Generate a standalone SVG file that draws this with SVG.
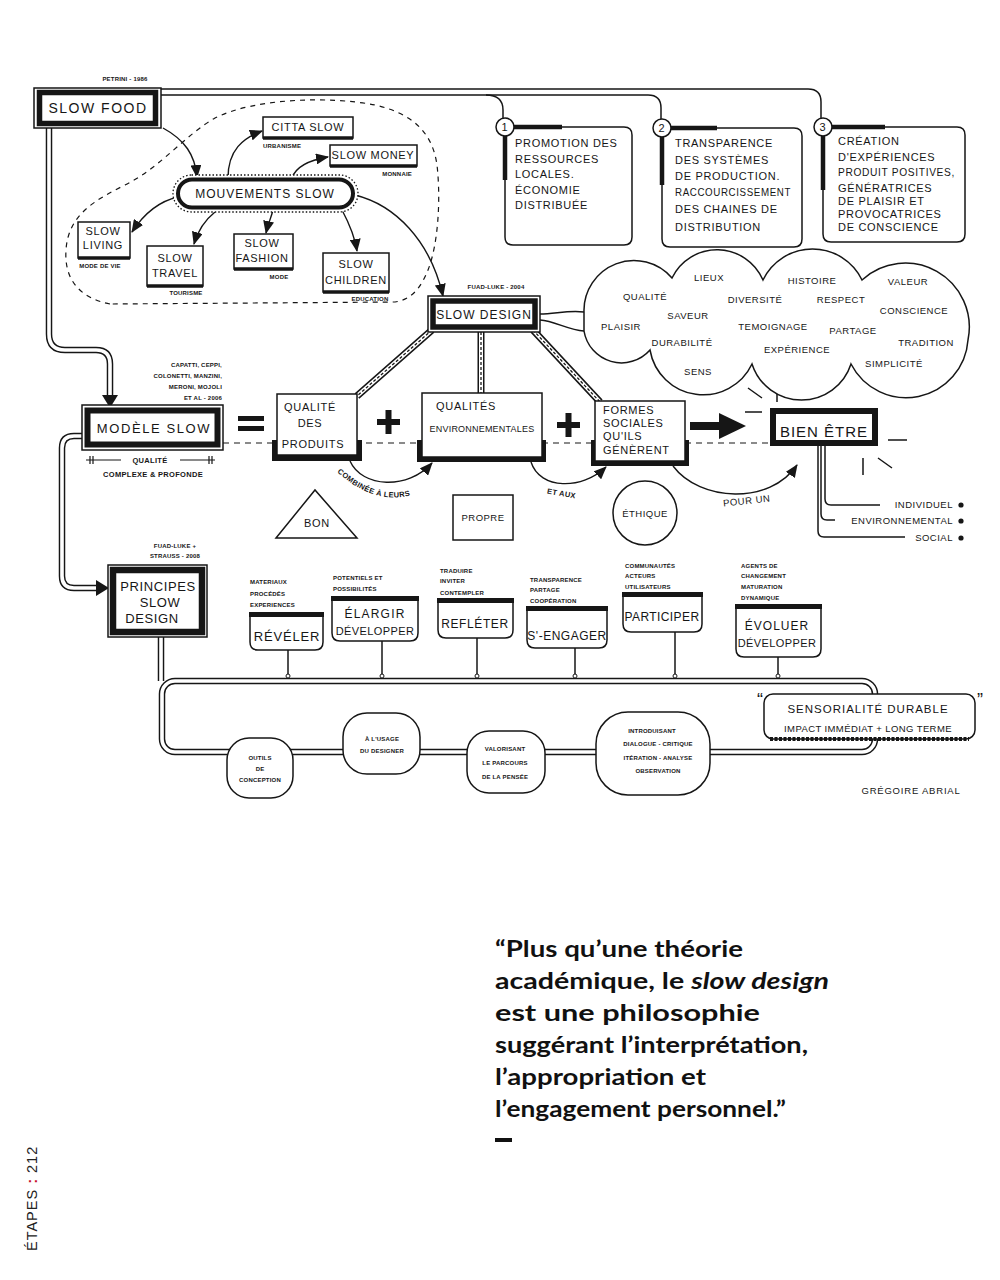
<svg xmlns="http://www.w3.org/2000/svg" width="1000" height="1280" viewBox="0 0 1000 1280">
<style>
text{font-family:"Liberation Sans",Arial,sans-serif;fill:#161616}
.c{text-anchor:middle}
.e{text-anchor:end}
.big{font-size:14px;letter-spacing:1.5px}
.m{font-size:12px;letter-spacing:1px}
.b{font-size:11px;letter-spacing:0.7px}
.w{font-size:9.5px;letter-spacing:0.5px}
.s{font-size:7.5px;font-weight:bold;letter-spacing:0.3px}
.xs{font-size:6px;font-weight:bold;letter-spacing:0.2px}
.ln{fill:none;stroke:#161616;stroke-width:1.5}
.box{fill:#fff;stroke:#161616;stroke-width:1.5}
.thick{fill:none;stroke:#161616;stroke-width:5.5}
.arr{fill:none;stroke:#161616;stroke-width:1.4;marker-end:url(#ah)}
.tO{fill:none;stroke:#161616;stroke-width:6.5}
.tI{fill:none;stroke:#fff;stroke-width:3.6}
.rO{fill:none;stroke:#161616;stroke-width:7}
.rI{fill:none;stroke:#fff;stroke-width:4}
.rD{fill:none;stroke:#161616;stroke-width:1.3;stroke-dasharray:3 2}
.q{font-family:Lato,"Open Sans",sans-serif;font-weight:bold;font-size:23px;fill:#111}
</style>
<defs>
<marker id="ah" markerUnits="userSpaceOnUse" markerWidth="13" markerHeight="11" refX="12" refY="5.5" orient="auto">
<path d="M0,0 L13,5.5 L0,11 z" fill="#161616"/>
</marker>
</defs>
<rect width="1000" height="1280" fill="#fff"/>

<g id="connectors">
<path class="ln" d="M161,89 H808 Q821,89 821,102 V118"/>
<path class="ln" d="M161,95 H648 Q661,95 661,108 V119"/>
<path class="ln" d="M486,95 Q503,95 503,110 V118"/>
<path class="tO" d="M49,128 V334 Q49,350 65,350 H96 Q110,350 110,364 V396"/>
<path class="tO" d="M82,436 H74 Q62,436 62,448 V576 Q62,588 74,588 H97"/>
<path class="tO" d="M161,637 V681"/>
<rect class="tO" x="162" y="681" width="713" height="71" rx="13"/>
<path class="tI" d="M49,128 V334 Q49,350 65,350 H96 Q110,350 110,364 V396"/>
<path class="tI" d="M82,436 H74 Q62,436 62,448 V576 Q62,588 74,588 H97"/>
<path class="tI" d="M161,637 V681"/>
<rect class="tI" x="162" y="681" width="713" height="71" rx="13"/>
<polygon points="102,395 118,395 110,408" fill="#161616"/>
<polygon points="96,580 109,588 96,596" fill="#161616"/>
<path d="M110,304 C80,298 64,280 66,250 C68,215 95,200 125,185 C160,168 185,135 215,118 C255,98 330,96 375,105 C410,113 432,130 437,165 C441,200 438,245 428,270 C420,290 410,300 395,302 L110,304" fill="none" stroke="#161616" stroke-width="1.2" stroke-dasharray="5 5"/>
<path class="arr" d="M163,128 C185,140 195,155 197,177"/>
<path class="arr" d="M228,178 C228,150 243,138 262,131"/>
<path class="arr" d="M292,178 C296,166 310,160 328,157"/>
<path class="arr" d="M178,197 C160,201 145,212 132,232"/>
<path class="arr" d="M215,212 C205,220 198,230 194,244"/>
<path class="arr" d="M273,210 C271,218 268,224 266,233"/>
<path class="arr" d="M342,210 C350,225 355,238 357,251"/>
<path class="arr" d="M355,195 C395,205 430,240 443,296"/>
<path class="ln" d="M540,314 C555,314 568,310 584,312"/>
<path class="ln" d="M540,320 C555,321 568,330 584,331"/>
<path class="rO" d="M432,330 L357,396 M481,332 V394 M533,330 L600,402"/>
<path class="rI" d="M432,330 L357,396 M481,332 V394 M533,330 L600,402"/>
<path class="rD" d="M432,330 L357,396 M481,332 V394 M533,330 L600,402"/>
<path d="M223,443 H770" fill="none" stroke="#161616" stroke-width="1.2" stroke-dasharray="6 5"/>
<path class="arr" d="M350,461 C362,488 408,490 432,463"/>
<path class="arr" d="M531,462 C540,490 582,490 606,467"/>
<path class="arr" d="M673,466 C700,502 770,505 797,465"/>
<path d="M690,426 H722" stroke="#161616" stroke-width="8" fill="none"/>
<polygon points="719,413 746,426 719,439" fill="#161616"/>
<path class="ln" d="M818,445 V531 Q818,537 824,537 H905"/>
<path class="ln" d="M821,445 V514 Q821,520 827,520 H835"/>
<path class="ln" d="M825,445 V499 Q825,505 831,505 H880"/>
<path class="ln" d="M748,388 L762,398 M777,380 V402 M745,412 H762 M888,440 H907 M863,458 V475 M878,458 L892,468"/>
<g class="ln">
<path d="M288,650 V677"/><path d="M382,641 V677"/><path d="M477,638 V677"/><path d="M575,648 V677"/><path d="M675,632 V677"/><path d="M778,657 V677"/>
</g>
<g fill="#fff" stroke="#161616" stroke-width="1">
<circle cx="288" cy="676" r="2"/><circle cx="382" cy="676" r="2"/><circle cx="477" cy="676" r="2"/><circle cx="575" cy="676" r="2"/><circle cx="675" cy="676" r="2"/><circle cx="778" cy="676" r="2"/>
</g>
</g>

<g id="slow-food">
<text class="xs c" x="125" y="81">PETRINI - 1986</text>
<rect class="box" x="34" y="88" width="127" height="40"/>
<rect class="thick" x="39.5" y="92.5" width="116" height="31"/>
<text class="big c" x="98" y="113">SLOW FOOD</text>
</g>

<g id="box-1">
<path class="box" d="M505,127 H624 Q632,127 632,135 V237 Q632,245 624,245 H513 Q505,245 505,237 Z"/>
<path d="M510,127 H562 M505,132 V180" stroke="#161616" stroke-width="4.5" fill="none"/>
<circle cx="505" cy="127" r="9" fill="#fff" stroke="#161616" stroke-width="1.5"/>
<text class="b c" x="505" y="131">1</text>
<text class="b" x="515" y="147">PROMOTION DES</text>
<text class="b" x="515" y="163">RESSOURCES</text>
<text class="b" x="515" y="178">LOCALES.</text>
<text class="b" x="515" y="194">ÉCONOMIE</text>
<text class="b" x="515" y="209">DISTRIBUÉE</text>
</g>

<g id="box-2">
<path class="box" d="M662,128 H794 Q802,128 802,136 V239 Q802,247 794,247 H670 Q662,247 662,239 Z"/>
<path d="M667,128 H717 M662,133 V185" stroke="#161616" stroke-width="4.5" fill="none"/>
<circle cx="662" cy="128" r="9" fill="#fff" stroke="#161616" stroke-width="1.5"/>
<text class="b c" x="662" y="132">2</text>
<text class="b" x="675" y="147">TRANSPARENCE</text>
<text class="b" x="675" y="164">DES SYSTÈMES</text>
<text class="b" x="675" y="180">DE PRODUCTION.</text>
<text class="b" x="675" y="196" textLength="116" lengthAdjust="spacingAndGlyphs">RACCOURCISSEMENT</text>
<text class="b" x="675" y="213">DES CHAINES DE</text>
<text class="b" x="675" y="231">DISTRIBUTION</text>
</g>

<g id="box-3">
<path class="box" d="M823,127 H957 Q965,127 965,135 V234 Q965,242 957,242 H831 Q823,242 823,234 Z"/>
<path d="M828,127 H885 M823,132 V190" stroke="#161616" stroke-width="4.5" fill="none"/>
<circle cx="823" cy="127" r="9" fill="#fff" stroke="#161616" stroke-width="1.5"/>
<text class="b c" x="823" y="131">3</text>
<text class="b" x="838" y="145">CRÉATION</text>
<text class="b" x="838" y="161">D'EXPÉRIENCES</text>
<text class="b" x="838" y="176" textLength="117" lengthAdjust="spacingAndGlyphs">PRODUIT POSITIVES,</text>
<text class="b" x="838" y="192">GÉNÉRATRICES</text>
<text class="b" x="838" y="205">DE PLAISIR ET</text>
<text class="b" x="838" y="218">PROVOCATRICES</text>
<text class="b" x="838" y="231">DE CONSCIENCE</text>
</g>

<g id="mouvements-slow">
<rect x="173" y="175" width="185" height="37" rx="18.5" fill="#fff" stroke="#161616" stroke-width="1.3" stroke-dasharray="1.5 2"/>
<rect x="178" y="179.5" width="175" height="28" rx="14" fill="#fff" stroke="#161616" stroke-width="4"/>
<text class="m c" x="265" y="198">MOUVEMENTS SLOW</text>
</g>

<g id="citta-slow">
<rect class="box" x="263" y="117" width="90" height="21"/>
<path d="M263,138 H353" stroke="#161616" stroke-width="3.5"/>
<text class="b c" x="308" y="131">CITTA SLOW</text>
<text class="xs" x="263" y="148">URBANISME</text>
</g>
<g id="slow-money">
<rect class="box" x="330" y="145" width="87" height="21"/>
<path d="M330,166 H417" stroke="#161616" stroke-width="3.5"/>
<text class="b c" x="373" y="159">SLOW MONEY</text>
<text class="xs e" x="412" y="176">MONNAIE</text>
</g>
<g id="slow-living">
<rect class="box" x="78" y="222" width="52" height="36"/>
<path d="M78,258 H130" stroke="#161616" stroke-width="3.5"/>
<text class="b c" x="103" y="235">SLOW</text>
<text class="b c" x="103" y="249">LIVING</text>
<text class="xs c" x="100" y="268">MODE DE VIE</text>
</g>
<g id="slow-travel">
<rect class="box" x="147" y="246" width="56" height="40"/>
<path d="M147,286 H203" stroke="#161616" stroke-width="3.5"/>
<text class="b c" x="175" y="262">SLOW</text>
<text class="b c" x="175" y="277">TRAVEL</text>
<text class="xs c" x="186" y="295">TOURISME</text>
</g>
<g id="slow-fashion">
<rect class="box" x="234" y="234" width="59" height="35"/>
<path d="M234,269 H293" stroke="#161616" stroke-width="3.5"/>
<text class="b c" x="262" y="247">SLOW</text>
<text class="b c" x="262" y="262">FASHION</text>
<text class="xs c" x="279" y="279">MODE</text>
</g>
<g id="slow-children">
<rect class="box" x="323" y="253" width="66" height="39"/>
<path d="M323,292 H389" stroke="#161616" stroke-width="3.5"/>
<text class="b c" x="356" y="268">SLOW</text>
<text class="b c" x="356" y="284">CHILDREN</text>
<text class="xs c" x="370" y="301">EDUCATION</text>
</g>

<g id="slow-design">
<text class="xs c" x="496" y="289">FUAD-LUKE - 2004</text>
<rect class="box" x="428" y="296" width="112" height="36"/>
<rect class="thick" x="433" y="301" width="102" height="26"/>
<text class="m c" x="484" y="319">SLOW DESIGN</text>
</g>

<g id="valeurs-cloud">
<path class="box" d="M584,331 L584,312 A50,50 0 0 1 672,278 A50,50 0 0 1 763,280 A55,55 0 0 1 862,280 A64,64 0 0 1 968,340 A62,62 0 0 1 851,364 A52,52 0 0 1 752,364 A54,54 0 0 1 650,350 A38,38 0 0 1 584,331 Z"/>
<g class="w c">
<text x="645" y="300">QUALITÉ</text>
<text x="709" y="281">LIEUX</text>
<text x="812" y="284">HISTOIRE</text>
<text x="908" y="285">VALEUR</text>
<text x="755" y="303">DIVERSITÉ</text>
<text x="841" y="303">RESPECT</text>
<text x="914" y="314">CONSCIENCE</text>
<text x="688" y="319">SAVEUR</text>
<text x="621" y="330">PLAISIR</text>
<text x="773" y="330">TEMOIGNAGE</text>
<text x="853" y="334">PARTAGE</text>
<text x="682" y="346">DURABILITÉ</text>
<text x="926" y="346">TRADITION</text>
<text x="797" y="353">EXPÉRIENCE</text>
<text x="894" y="367">SIMPLICITÉ</text>
<text x="698" y="375">SENS</text>
</g>
</g>

<g id="modele-slow">
<g class="xs e">
<text x="222" y="367">CAPATTI, CEPPI,</text>
<text x="222" y="378">COLONETTI, MANZINI,</text>
<text x="222" y="389">MERONI, MOJOLI</text>
<text x="222" y="400">ET AL - 2006</text>
</g>
<rect class="box" x="82" y="405" width="141" height="45"/>
<rect x="87.5" y="410.5" width="130" height="34" fill="none" stroke="#161616" stroke-width="6"/>
<text class="c" x="154" y="433" style="font-size:13px;letter-spacing:1.6px">MODÈLE SLOW</text>
<path class="ln" d="M86,460 H121 M180,460 H215 M90,456 V464 M93,456 V464 M209,456 V464 M212,456 V464" style="stroke-width:1.2"/>
<text class="s c" x="150" y="463">QUALITÉ</text>
<text class="s c" x="153" y="477">COMPLEXE &amp; PROFONDE</text>
</g>

<g id="egal">
<rect x="238" y="416" width="26" height="5" fill="#161616"/>
<rect x="238" y="426" width="26" height="5" fill="#161616"/>
</g>

<g id="qualite-produits">
<rect x="272" y="440" width="90" height="21" fill="#161616"/>
<rect class="box" x="277" y="394" width="80" height="61"/>
<text class="b c" x="310" y="411">QUALITÉ</text>
<text class="b c" x="310" y="427">DES</text>
<text class="b c" x="313" y="448">PRODUITS</text>
</g>

<g id="plus-1"><rect x="377" y="419" width="23" height="6" fill="#161616"/><rect x="385.5" y="410" width="6" height="24" fill="#161616"/></g>

<g id="qualites-env">
<rect x="417" y="440" width="129" height="22" fill="#161616"/>
<rect class="box" x="422" y="393" width="120" height="64"/>
<text class="b c" x="466" y="410">QUALITÉS</text>
<text class="c" x="482" y="432" style="font-size:9px;letter-spacing:0.2px">ENVIRONNEMENTALES</text>
</g>

<g id="plus-2"><rect x="557" y="422" width="23" height="6" fill="#161616"/><rect x="565.5" y="413" width="6" height="24" fill="#161616"/></g>

<g id="formes-sociales">
<rect x="591" y="440" width="98" height="26" fill="#161616"/>
<rect class="box" x="595" y="401" width="90" height="60"/>
<text class="b" x="603" y="414">FORMES</text>
<text class="b" x="603" y="427">SOCIALES</text>
<text class="b" x="603" y="440">QU'ILS</text>
<text class="b" x="603" y="454">GÉNÈRENT</text>
</g>

<g id="bien-etre">
<rect x="773" y="411" width="102" height="32" fill="#fff" stroke="#161616" stroke-width="6"/>
<text class="c" x="824" y="437" style="font-size:15px;letter-spacing:1px">BIEN ÊTRE</text>
<text class="w e" x="953" y="508">INDIVIDUEL</text>
<text class="w e" x="953" y="524">ENVIRONNEMENTAL</text>
<text class="w e" x="953" y="541">SOCIAL</text>
<circle cx="961" cy="505" r="2.6" fill="#161616"/>
<circle cx="961" cy="521" r="2.6" fill="#161616"/>
<circle cx="961" cy="538" r="2.6" fill="#161616"/>
</g>

<g id="labels-liens">
<path id="pc" d="M337,472 Q386,516 436,484" fill="none"/>
<text class="s"><textPath href="#pc">COMBINÉE À LEURS</textPath></text>
<text class="s c" x="561" y="496" transform="rotate(10 561 496)">ET AUX</text>
<text class="w c" x="747" y="504" transform="rotate(-6 747 504)">POUR UN</text>
</g>

<g id="bon">
<polygon points="276,538 315,490 357,538" class="box"/>
<text class="b c" x="317" y="527">BON</text>
</g>
<g id="propre">
<rect class="box" x="453" y="495" width="60" height="45"/>
<text class="w c" x="483" y="521">PROPRE</text>
</g>
<g id="ethique">
<circle class="box" cx="645" cy="513" r="32"/>
<text class="w c" x="645" y="517">ÉTHIQUE</text>
</g>

<g id="principes-slow-design">
<text class="xs c" x="175" y="548">FUAD-LUKE +</text>
<text class="xs c" x="175" y="558">STRAUSS - 2008</text>
<rect class="box" x="108" y="565" width="99" height="72"/>
<rect x="113" y="570" width="89" height="62" fill="none" stroke="#161616" stroke-width="6.5"/>
<text class="c" x="158" y="591" style="font-size:13px;letter-spacing:0.6px">PRINCIPES</text>
<text class="c" x="160" y="607" style="font-size:13px;letter-spacing:0.6px">SLOW</text>
<text class="c" x="152" y="623" style="font-size:13px;letter-spacing:0.6px">DESIGN</text>
</g>

<g id="reveler">
<text class="xs" x="250" y="584">MATERIAUX</text>
<text class="xs" x="250" y="596">PROCÉDÉS</text>
<text class="xs" x="250" y="607">EXPERIENCES</text>
<path class="box" d="M250,614 H323 V642 Q323,650 315,650 H258 Q250,650 250,642 Z"/>
<rect x="249" y="612" width="75" height="5" fill="#161616"/>
<text class="c" x="287" y="641" style="font-size:13px;letter-spacing:0.8px">RÉVÉLER</text>
</g>
<g id="elargir">
<text class="xs" x="333" y="580">POTENTIELS ET</text>
<text class="xs" x="333" y="591">POSSIBILITÉS</text>
<path class="box" d="M332,598 H418 V633 Q418,641 410,641 H340 Q332,641 332,633 Z"/>
<rect x="331" y="596" width="88" height="5" fill="#161616"/>
<text class="c" x="375" y="618" style="font-size:12px;letter-spacing:1.2px">ÉLARGIR</text>
<text class="c" x="375" y="635" style="font-size:11px;letter-spacing:0.4px">DÉVELOPPER</text>
</g>
<g id="refleter">
<text class="xs" x="440" y="573">TRADUIRE</text>
<text class="xs" x="440" y="583">INVITER</text>
<text class="xs" x="440" y="595">CONTEMPLER</text>
<path class="box" d="M438,600 H513 V630 Q513,638 505,638 H446 Q438,638 438,630 Z"/>
<rect x="437" y="598" width="77" height="5" fill="#161616"/>
<text class="c" x="475" y="628" style="font-size:12px;letter-spacing:0.6px">REFLÉTER</text>
</g>
<g id="s-engager">
<text class="xs" x="530" y="582">TRANSPARENCE</text>
<text class="xs" x="530" y="592">PARTAGE</text>
<text class="xs" x="530" y="603">COOPÉRATION</text>
<path class="box" d="M527,608 H607 V640 Q607,648 599,648 H535 Q527,648 527,640 Z"/>
<rect x="526" y="606" width="82" height="5" fill="#161616"/>
<text class="c" x="567" y="640" style="font-size:12px;letter-spacing:0.5px">S'-ENGAGER</text>
</g>
<g id="participer">
<text class="xs" x="625" y="568">COMMUNAUTÉS</text>
<text class="xs" x="625" y="578">ACTEURS</text>
<text class="xs" x="625" y="589">UTILISATEURS</text>
<path class="box" d="M623,594 H702 V624 Q702,632 694,632 H631 Q623,632 623,624 Z"/>
<rect x="622" y="592" width="81" height="5" fill="#161616"/>
<text class="c" x="662" y="621" style="font-size:12px;letter-spacing:0.4px">PARTICIPER</text>
</g>
<g id="evoluer">
<text class="xs" x="741" y="568">AGENTS DE</text>
<text class="xs" x="741" y="578">CHANGEMENT</text>
<text class="xs" x="741" y="589">MATURATION</text>
<text class="xs" x="741" y="600">DYNAMIQUE</text>
<path class="box" d="M736,606 H821 V649 Q821,657 813,657 H744 Q736,657 736,649 Z"/>
<rect x="735" y="604" width="87" height="5" fill="#161616"/>
<text class="c" x="777" y="630" style="font-size:12px;letter-spacing:1px">ÉVOLUER</text>
<text class="c" x="777" y="647" style="font-size:11px;letter-spacing:0.4px">DÉVELOPPER</text>
</g>

<g id="outils">
<rect class="box" x="227" y="738" width="66" height="60" rx="22"/>
<text class="xs c" x="260" y="760">OUTILS</text>
<text class="xs c" x="260" y="771">DE</text>
<text class="xs c" x="260" y="782">CONCEPTION</text>
</g>
<g id="usage">
<rect class="box" x="343" y="713" width="77" height="61" rx="24"/>
<text class="xs c" x="382" y="741">À L'USAGE</text>
<text class="xs c" x="382" y="753">DU DESIGNER</text>
</g>
<g id="valorisant">
<rect class="box" x="467" y="731" width="78" height="62" rx="22"/>
<text class="xs c" x="505" y="751">VALORISANT</text>
<text class="xs c" x="505" y="765">LE PARCOURS</text>
<text class="xs c" x="505" y="779">DE LA PENSÉE</text>
</g>
<g id="introduisant">
<rect class="box" x="596" y="712" width="114" height="83" rx="32"/>
<text class="xs c" x="652" y="733">INTRODUISANT</text>
<text class="xs c" x="658" y="746">DIALOGUE - CRITIQUE</text>
<text class="xs c" x="658" y="760">ITÉRATION - ANALYSE</text>
<text class="xs c" x="658" y="773">OBSERVATION</text>
</g>
<g id="sensorialite">
<text class="c" x="760" y="706" style="font-size:18px">“</text>
<text class="c" x="980" y="706" style="font-size:18px">”</text>
<rect class="box" x="764" y="694" width="211" height="45" rx="9"/>
<path d="M770,739 H969" stroke="#161616" stroke-width="4" stroke-dasharray="3 1.5" fill="none"/>
<text class="c" x="868" y="713" style="font-size:11.5px;letter-spacing:1px">SENSORIALITÉ DURABLE</text>
<text class="c" x="868" y="732" style="font-size:9.5px;letter-spacing:0.4px">IMPACT IMMÉDIAT + LONG TERME</text>
</g>

<text class="w c" x="911" y="794" style="letter-spacing:0.8px">GRÉGOIRE ABRIAL</text>

<g id="citation">
<text class="q" x="495" y="957" textLength="248" lengthAdjust="spacingAndGlyphs">“Plus qu’une théorie</text>
<text class="q" x="495" y="989" textLength="334" lengthAdjust="spacingAndGlyphs">académique, le <tspan font-style="italic">slow design</tspan></text>
<text class="q" x="495" y="1021" textLength="265" lengthAdjust="spacingAndGlyphs">est une philosophie</text>
<text class="q" x="495" y="1053" textLength="313" lengthAdjust="spacingAndGlyphs">suggérant l’interprétation,</text>
<text class="q" x="495" y="1085" textLength="211" lengthAdjust="spacingAndGlyphs">l’appropriation et</text>
<text class="q" x="495" y="1117" textLength="291" lengthAdjust="spacingAndGlyphs">l’engagement personnel.”</text>
<rect x="495" y="1138" width="17" height="4" fill="#111"/>
</g>

<g id="folio">
<text x="0" y="0" transform="translate(37,1251) rotate(-90)" style="font-size:14.5px;letter-spacing:1px;fill:#222">ÉTAPES <tspan style="fill:#c8102e;font-weight:bold">:</tspan> 212</text>
</g>
</svg>
